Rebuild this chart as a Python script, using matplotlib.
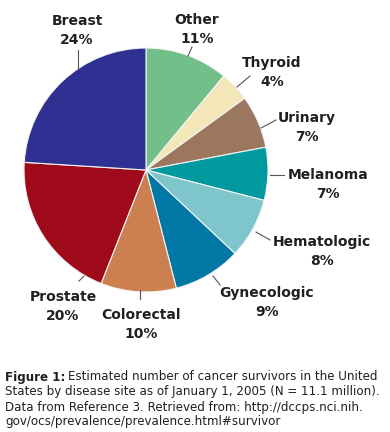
import matplotlib
matplotlib.use("Agg")
import matplotlib.pyplot as plt

# data, clockwise from 12 o'clock
sites = ["Other", "Thyroid", "Urinary", "Melanoma", "Hematologic",
         "Gynecologic", "Colorectal", "Prostate", "Breast"]
percents = [11, 4, 7, 7, 8, 9, 10, 20, 24]
colors = ["#73bf89", "#f3e6b9", "#9a775e", "#009a9e", "#7fc6cc",
          "#0077a4", "#cd804f", "#9f0a1a", "#2e3192"]

caption_lines = [
    "Estimated number of cancer survivors in the United",
    "States by disease site as of January 1, 2005 (N = 11.1 million).",
    "Data from Reference 3. Retrieved from: http://dccps.nci.nih.",
    "gov/ocs/prevalence/prevalence.html#survivor",
]

W, H = 390, 432
# label layout in image pixels: text centre x, name y, leader line (x0, y0, x1, y1)
layout = {
    "Breast":      (77, 21, (78, 50, 78, 69)),
    "Other":       (197, 20, (192, 47, 188, 56)),
    "Thyroid":     (272, 63, (250, 76, 237, 87)),
    "Urinary":     (307, 118, (276, 120, 261, 128)),
    "Melanoma":    (328, 175, (284, 175, 270, 175)),
    "Hematologic": (322, 242, (270, 240, 256, 232)),
    "Gynecologic": (267, 293, (220, 285, 213, 276)),
    "Colorectal":  (141, 315, (140, 299, 140, 290)),
    "Prostate":    (63, 297, (79, 281, 84, 276)),
}

fig = plt.figure(figsize=(W / 100, H / 100), dpi=100)
ax = fig.add_axes([0, 0, 1, 1])

ax.pie(percents, colors=colors, startangle=90, counterclock=False,
       center=(146, H - 170), radius=122,
       wedgeprops=dict(edgecolor="#f4f4f4", linewidth=0.8))
ax.set_xlim(0, W)
ax.set_ylim(0, H)
ax.set_aspect("equal")
ax.axis("off")

for name, pct in zip(sites, percents):
    x, y, (x0, y0, x1, y1) = layout[name]
    ax.text(x, H - y, name, ha="center", va="center", fontsize=10,
            fontweight="bold", color="#231f20")
    ax.text(x, H - y - 19, f"{pct}%", ha="center", va="center", fontsize=10,
            fontweight="bold", color="#231f20")
    ax.plot([x0, x1], [H - y0, H - y1], color="#555555", lw=0.8)

# caption
fig.canvas.draw()
r = fig.canvas.get_renderer()
t = ax.text(5, H - 377, "Figure 1:", ha="left", va="center", fontsize=8.6,
            fontweight="bold", color="#231f20")
bb = t.get_window_extent(renderer=r)
ax.text(5 + bb.width + 3, H - 377, caption_lines[0], ha="left", va="center",
        fontsize=8.6, color="#231f20")
for i, line in enumerate(caption_lines[1:]):
    ax.text(5, H - 392 - 15 * i, line, ha="left", va="center", fontsize=8.6,
            color="#231f20")

fig.savefig("out.png", dpi=100)
